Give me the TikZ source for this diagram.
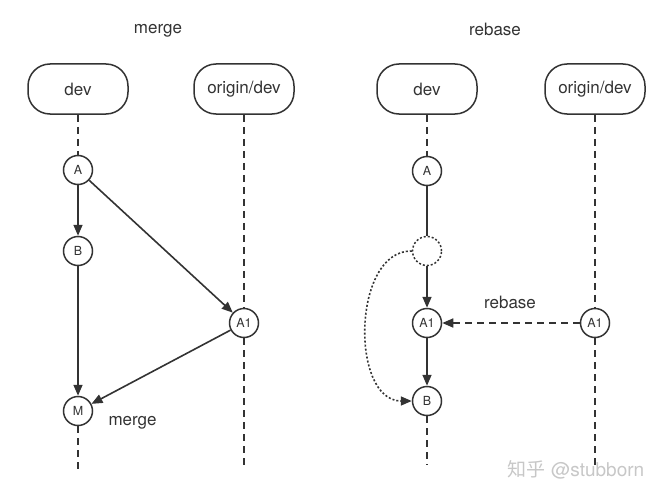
\documentclass[tikz,border=0pt]{standalone}
\usepackage{fontspec}
\setmainfont{TeX Gyre Heros}
\newfontfamily\cjkfont{Noto Sans CJK SC}
\usetikzlibrary{arrows.meta,positioning}
\definecolor{Ink}{HTML}{333333}
\newcommand{\Commit}[4]{%
  \node[commit] (#1) at (#2,#3) {#4};%
}

\begin{document}
\begin{tikzpicture}[x=1pt,y=-1pt,
  branch/.style={draw=Ink,line width=1.5pt,rounded corners=22pt,minimum width=100pt,minimum height=50pt,inner sep=0pt,font=\fontsize{17}{20}\selectfont,text=Ink},
  commit/.style={circle,draw=Ink,line width=1.5pt,minimum size=29pt,inner sep=0pt,font=\fontsize{12.5}{14}\selectfont,text=Ink},
  life/.style={draw=Ink,line width=1.5pt,dash pattern=on 7pt off 5pt},
  edge/.style={draw=Ink,line width=1.6pt,-{Triangle[length=11pt,width=9pt]}},
  lbl/.style={font=\fontsize{17}{20}\selectfont,text=Ink}]
\useasboundingbox (0,0) rectangle (668,500);
% titles
\node[lbl] (tmerge) at (158,31) {merge};
\node[lbl] (trebase) at (495,29) {rebase};
% branch heads
\node[branch] (dev1) at (78,89) {dev};
\node[branch] (orig1) at (244,89) {origin/dev};
\node[branch] (dev2) at (427,89) {dev};
\node[branch] (orig2) at (595,89) {origin/dev};
% merge side
\Commit{A}{78}{170}{A}
\Commit{B}{78}{251}{B}
\Commit{M}{78}{411}{M}
\Commit{Ao}{244}{323}{A1}
\coordinate (endM) at (78,470);
\coordinate (endO1) at (244,470);
\draw[life] (dev1) -- (A);
\draw[life] (M) -- (endM);
\draw[life] (orig1) -- (Ao);
\draw[life] (Ao) -- (endO1);
\draw[edge] (A) -- (B);
\draw[edge] (B) -- (M);
\draw[edge] (A) -- (Ao);
\draw[edge] (Ao) -- (M);
\node[lbl,anchor=west] (lmerge) at (105,423) {merge};
% rebase side
\Commit{Ar}{427}{171}{A}
\node[commit,draw=Ink,dash pattern=on 2pt off 2pt] (gone) at (427,251) {};
\Commit{Anew}{427}{323}{A1}
\Commit{Br}{427}{401}{B}
\Commit{Aor}{595}{323}{A1}
\coordinate (endB) at (427,465);
\coordinate (endO2) at (595,465);
\draw[life] (dev2) -- (Ar);
\draw[life] (Br) -- (endB);
\draw[life] (orig2) -- (Aor);
\draw[life] (Aor) -- (endO2);
\draw[draw=Ink,line width=1.6pt] (Ar) -- (gone);
\draw[edge] (gone) -- (Anew);
\draw[edge] (Anew) -- (Br);
\draw[edge,dash pattern=on 7pt off 5pt] (Aor) -- (Anew);
\node[lbl] (lrebase) at (510,302) {rebase};
\draw[edge,dash pattern=on 2pt off 2pt] (gone.west) .. controls (352,250) and (350,401) .. (Br.west);
% watermark
\node[text=black!22,font=\fontsize{19}{21}\selectfont] (wm) at (576,470) {{\cjkfont 知乎} @stubborn};
\end{tikzpicture}
\end{document}
